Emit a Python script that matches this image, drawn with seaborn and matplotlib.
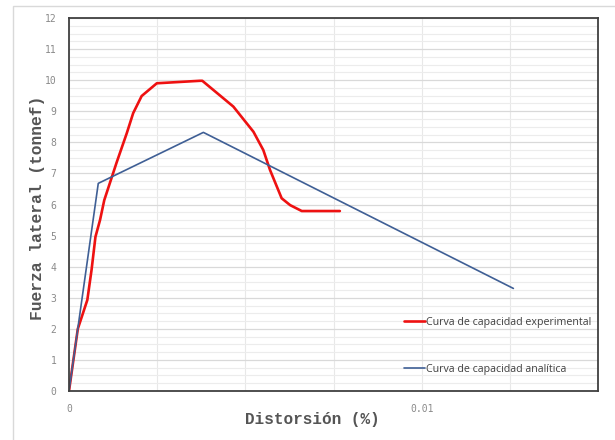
import numpy as np
import pandas as pd
import matplotlib
matplotlib.use("Agg")
import matplotlib.pyplot as plt
from matplotlib.ticker import MultipleLocator, FixedLocator
from matplotlib.patches import Rectangle
import seaborn as sns

# Data
exp_x = [0, 0.00025, 0.00052, 0.00064, 0.00075, 0.00088, 0.0010, 0.00135, 0.00164,
         0.00182, 0.00206, 0.00249, 0.00371, 0.00378, 0.00466, 0.00523, 0.00551,
         0.00570, 0.00603, 0.00627, 0.00660, 0.00768]
exp_y = [0, 2.0, 2.93, 3.9, 4.96, 5.5, 6.14, 7.35, 8.3, 8.94, 9.49, 9.9, 9.98, 9.98,
         9.15, 8.34, 7.75, 7.11, 6.2, 5.98, 5.79, 5.79]
ana_x = [0, 0.00083, 0.00381, 0.0126]
ana_y = [0, 6.68, 8.32, 3.3]
lbl_exp = "Curva de capacidad experimental"
lbl_ana = "Curva de capacidad analítica"
xlabel = "Distorsión (%)"
ylabel = "Fuerza lateral (tonnef)"

df = pd.concat([
    pd.DataFrame({"x": exp_x, "y": exp_y, "serie": lbl_exp}),
    pd.DataFrame({"x": ana_x, "y": ana_y, "serie": lbl_ana}),
])

sns.set_style("white")
plt.rcParams["font.family"] = ["DejaVu Sans"]

fig = plt.figure(figsize=(6.15, 4.4), dpi=100)
ax = fig.add_axes([69/615, 49/440, (598-69)/615, (391-18)/440])

# outer light frame
fig.patches.append(Rectangle((13/615, -0.1), 1.2, 1.1 - 6/440, transform=fig.transFigure,
                             fill=False, edgecolor="#d9d9d9", linewidth=1.0, zorder=0))

sns.lineplot(data=df[df.serie == lbl_exp], x="x", y="y", sort=False, color="#EE1111",
             linewidth=1.9, ax=ax, label=lbl_exp, estimator=None)
sns.lineplot(data=df[df.serie == lbl_ana], x="x", y="y", sort=False, color="#3F5F95",
             linewidth=1.2, ax=ax, label=lbl_ana, estimator=None)

ax.set_xlim(0, 0.015)
ax.set_ylim(0, 12)
ax.xaxis.set_major_locator(FixedLocator([0, 0.01]))
ax.xaxis.set_minor_locator(MultipleLocator(0.0025))
ax.yaxis.set_major_locator(MultipleLocator(1))
ax.yaxis.set_minor_locator(MultipleLocator(0.25))
ax.set_xticklabels(["0", "0.01"])
ax.grid(True, which="major", axis="y", color="#d9d9d9", linewidth=0.9)
ax.grid(True, which="minor", axis="y", color="#ececec", linewidth=0.8)
ax.grid(True, which="both", axis="x", color="#e8e8e8", linewidth=0.8)
ax.set_axisbelow(True)
ax.tick_params(axis="both", which="both", length=0, labelsize=7, labelcolor="#8a8a8a",
               pad=9)
for lab in ax.get_xticklabels() + ax.get_yticklabels():
    lab.set_family("DejaVu Sans Mono")
for s in ax.spines.values():
    s.set_color("#404040")
    s.set_linewidth(1.3)

ax.set_xlabel(xlabel, family="Liberation Mono", fontweight="bold", fontsize=11.5,
              color="#555555")
ax.xaxis.set_label_coords(0.46, -0.055)
ax.set_ylabel(ylabel, family="Liberation Mono", fontweight="bold", fontsize=11.7,
              color="#555555")
ax.yaxis.set_label_coords(-0.045, 0.49)

leg = ax.legend(loc="upper left", bbox_to_anchor=(0.626, 0.21), frameon=False,
                fontsize=7.7, handlelength=1.9, handletextpad=0.15,
                labelspacing=3.35, borderaxespad=0)
for t in leg.get_texts():
    t.set_family("Open Sans")
    t.set_color("#404040")

fig.savefig("out.png", dpi=100)
